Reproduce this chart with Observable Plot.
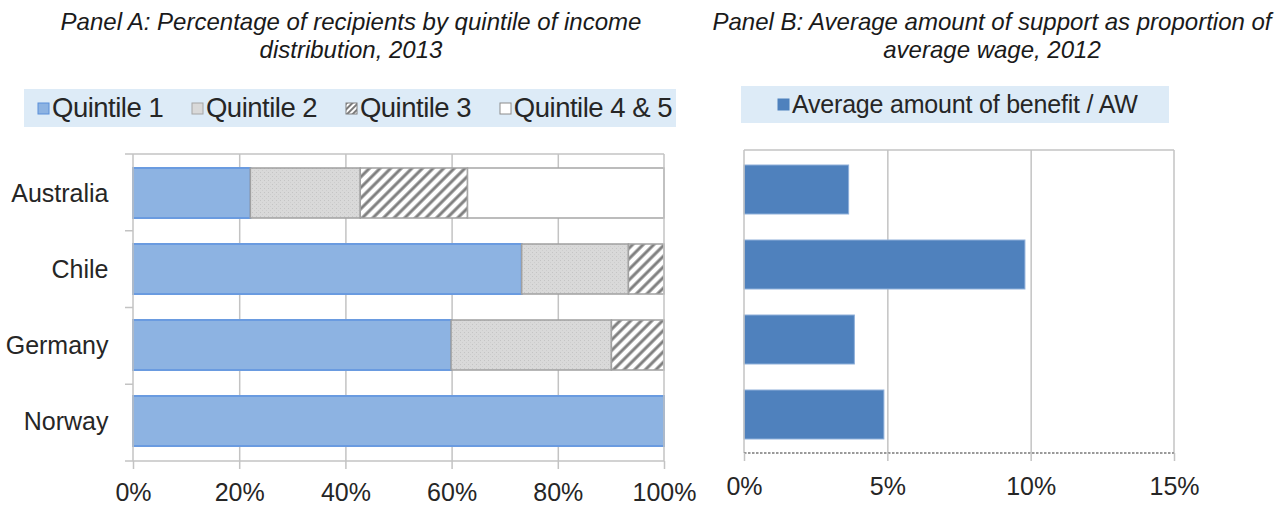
<!DOCTYPE html>
<html>
<head>
<meta charset="utf-8">
<script src="https://cdn.jsdelivr.net/npm/d3@7"></script>
<script src="https://cdn.jsdelivr.net/npm/@observablehq/plot@0.6"></script>
<style>
  body { margin: 0; background: #fff; font-family: "Liberation Sans", Arial, sans-serif; }
  #root { position: relative; width: 1284px; height: 506px; overflow: hidden; background: #fff; }
  .title { position: absolute; top: 8px; font-family: "Liberation Sans", Arial, sans-serif; font-style: italic; font-size: 24px; line-height: 28px; text-align: center; color: #1a1a1a; white-space: nowrap; }
  .legend { position: absolute; background: #ddebf7; display: flex; align-items: center; color: #262626; white-space: nowrap; box-sizing: border-box; }
  .item { display: flex; align-items: center; }
  .item svg { margin-right: 2px; }
  .chart { position: absolute; top: 140px; }
</style>
</head>
<body>
<svg width="0" height="0" style="position:absolute">
  <defs>
    <pattern id="dots" patternUnits="userSpaceOnUse" width="4" height="4">
      <rect width="4" height="4" fill="#d9d9d9"></rect>
      <rect x="0" y="0" width="1" height="1" fill="#c4c4c4"></rect>
      <rect x="2" y="2" width="1" height="1" fill="#cdcdcd"></rect>
    </pattern>
    <pattern id="hatch" patternUnits="userSpaceOnUse" width="7.5" height="7.5" patternTransform="rotate(45)">
      <rect width="7.5" height="7.5" fill="#ffffff"></rect>
      <line x1="3.75" y1="0" x2="3.75" y2="7.5" stroke="#7f7f7f" stroke-width="3"></line>
    </pattern>
    <pattern id="hatchSmall" patternUnits="userSpaceOnUse" width="4" height="4" patternTransform="rotate(45)">
      <rect width="4" height="4" fill="#ffffff"></rect>
      <line x1="2" y1="0" x2="2" y2="4" stroke="#595959" stroke-width="1.6"></line>
    </pattern>
  </defs>
</svg>
<div id="root">
  <div class="title" style="left:0px;width:702px;">Panel A: Percentage of recipients by quintile of income<br>distribution, 2013</div>
  <div class="title" style="left:700px;width:584px;">Panel B: Average amount of support as proportion of<br>average wage, 2012</div>
  <div id="legendA" class="legend" style="left:24px;top:89px;width:652px;height:38px;padding-left:13px;padding-right:4px;justify-content:space-between;font-size:27.5px;"></div>
  <div id="legendB" class="legend" style="left:741px;top:86px;width:428px;height:37px;padding-left:36px;font-size:25px;"></div>
  <div id="chartA" class="chart" style="left:0px;"></div>
  <div id="chartB" class="chart" style="left:700px;"></div>
</div>
<script>
// ---------- data ----------
const countries = ["Australia", "Chile", "Germany", "Norway"];
const quintiles = ["Quintile 1", "Quintile 2", "Quintile 3", "Quintile 4 & 5"];
const quintile1 = [22.1, 73.2, 59.9, 100];
const quintile2 = [20.7, 20.1, 30.2, 0];
const quintile3 = [20.2, 6.7, 9.9, 0];
const quintile45 = [37.0, 0, 0, 0];
const xTicksA = [0, 20, 40, 60, 80, 100];

const benefitLabel = "Average amount of benefit / AW";
const benefitShare = [3.65, 9.8, 3.85, 4.88];
const xTicksB = [0, 5, 10, 15];

// ---------- styles ----------
const quintileFills = ["#8db3e2", "url(#dots)", "url(#hatch)", "#ffffff"];
const quintileStrokes = ["#6a9be0", "#a0a0a0", "#a0a0a0", "#a6a6a6"];
const quintileSwatchFills = ["#8db3e2", "#d9d9d9", "url(#hatchSmall)", "#ffffff"];
const quintileSwatchStrokes = ["#5b8fd9", "#a6a6a6", "#7f7f7f", "#8c8c8c"];
const benefitFill = "#4f81bd";
const gridColor = "#c3c3c3";
const textColor = "#262626";
const fontStack = "'Liberation Sans', Arial, sans-serif";

// ---------- tables ----------
const seriesA = [quintile1, quintile2, quintile3, quintile45];
const rowsA = [];
quintiles.forEach((q, qi) => {
  countries.forEach((c, ci) => {
    rowsA.push({country: c, quintile: q, qi, value: seriesA[qi][ci]});
  });
});
const rowsB = countries.map((c, i) => ({country: c, value: benefitShare[i]}));

// frame + category-boundary ticks drawn from the plot dimensions
function frameA(index, scales, values, dims) {
  const {width, height, marginTop, marginRight, marginBottom, marginLeft} = dims;
  const g = d3.create("svg:g").attr("stroke", gridColor).attr("stroke-width", 1.5).attr("fill", "none");
  const x0 = marginLeft, x1 = width - marginRight, y0 = marginTop, y1 = height - marginBottom;
  const n = countries.length, step = (y1 - y0) / n;
  g.append("line").attr("x1", x0).attr("x2", x0).attr("y1", y0).attr("y2", y1);
  g.append("line").attr("x1", x1).attr("x2", x1).attr("y1", y0).attr("y2", y1);
  for (let k = 0; k <= n; k++) {
    const y = y0 + k * step;
    g.append("line").attr("x1", x0 - 8).attr("x2", k === 0 || k === n ? x1 : x0).attr("y1", y).attr("y2", y);
  }
  return g.node();
}
function frameB(index, scales, values, dims) {
  const {width, height, marginTop, marginRight, marginBottom, marginLeft} = dims;
  const g = d3.create("svg:g").attr("stroke", gridColor).attr("stroke-width", 1.5).attr("fill", "none");
  const x0 = marginLeft, x1 = width - marginRight, y0 = marginTop, y1 = height - marginBottom;
  g.append("line").attr("x1", x0).attr("x2", x0).attr("y1", y0).attr("y2", y1);
  g.append("line").attr("x1", x1).attr("x2", x1).attr("y1", y0).attr("y2", y1);
  g.append("line").attr("x1", x0).attr("x2", x1).attr("y1", y0).attr("y2", y0);
  g.append("line").attr("x1", x0).attr("x2", x1).attr("y1", y1).attr("y2", y1)
    .attr("stroke", "#9a9a9a").attr("stroke-dasharray", "2.5,1.5").attr("stroke-width", 2);
  return g.node();
}

const chartA = Plot.plot({
  width: 700,
  height: 366,
  marginTop: 14,
  marginBottom: 45,
  marginLeft: 133,
  marginRight: 36,
  x: {domain: [0, 100], label: null},
  y: {domain: countries, paddingInner: 0.34, paddingOuter: 0.17, label: null},
  color: {type: "identity"},
  style: {fontFamily: fontStack, fontSize: "25px", color: textColor, background: "transparent", overflow: "visible"},
  marks: [
    Plot.ruleX(xTicksA.slice(1, -1), {stroke: gridColor, strokeWidth: 1.5}),
    Plot.barX(rowsA.filter(d => d.value > 0), Plot.stackX({
      x: "value",
      y: "country",
      z: "qi",
      order: "qi",
      fill: d => quintileFills[d.qi],
      stroke: d => quintileStrokes[d.qi],
      strokeWidth: d => d.qi === 0 ? 2 : 1.5
    })),
    frameA,
    Plot.axisX({ticks: xTicksA, label: null, tickSize: 8, tickPadding: 14, tickFormat: d => d + "%", stroke: gridColor, strokeWidth: 1.5, fill: textColor, letterSpacing: -0.5}),
    Plot.axisY({label: null, tickSize: 0, tickPadding: 25, fill: textColor, letterSpacing: -0.6})
  ]
});
document.getElementById("chartA").append(chartA);

const chartB = Plot.plot({
  width: 584,
  height: 366,
  marginTop: 10,
  marginBottom: 53,
  marginLeft: 44,
  marginRight: 110,
  x: {domain: [0, 15], label: null},
  y: {domain: countries, paddingInner: 0.35, paddingOuter: 0.175, axis: null, label: null},
  style: {fontFamily: fontStack, fontSize: "25px", color: textColor, background: "transparent", overflow: "visible"},
  marks: [
    Plot.ruleX(xTicksB.slice(1, -1), {stroke: gridColor, strokeWidth: 1.5}),
    Plot.barX(rowsB, {x: "value", y: "country", fill: benefitFill, stroke: "#8fb0da", strokeWidth: 1}),
    frameB,
    Plot.axisX({ticks: xTicksB, label: null, tickSize: 8, tickPadding: 16, tickFormat: d => d + "%", stroke: gridColor, strokeWidth: 1.5, fill: textColor, letterSpacing: -0.5})
  ]
});
document.getElementById("chartB").append(chartB);

// ---------- legends ----------
function swatch(fill, stroke) {
  return `<svg width="13" height="13"><rect x="1" y="1" width="11" height="11" fill="${fill}" stroke="${stroke}" stroke-width="1"></rect></svg>`;
}
document.getElementById("legendA").innerHTML = quintiles.map((q, i) =>
  `<span class="item">${swatch(quintileSwatchFills[i], quintileSwatchStrokes[i])}<span style="letter-spacing:-0.5px">${q}</span></span>`).join("");
document.getElementById("legendB").innerHTML =
  `<span class="item">${swatch(benefitFill, benefitFill)}<span style="letter-spacing:-0.2px">${benefitLabel}</span></span>`;
</script>
</body>
</html>
